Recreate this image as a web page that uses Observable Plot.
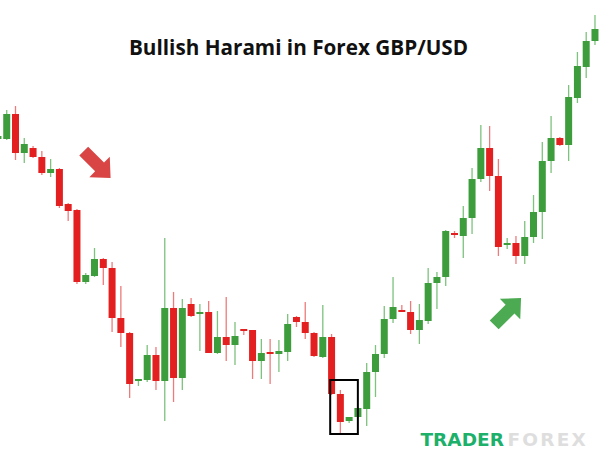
<!DOCTYPE html>
<html>
<head>
<meta charset="utf-8">
<script src="https://cdn.jsdelivr.net/npm/d3@7"></script>
<script src="https://cdn.jsdelivr.net/npm/@observablehq/plot@0.6"></script>
<style>
  html, body { margin: 0; padding: 0; background: #fff; }
  #chart { width: 600px; height: 459px; overflow: hidden; }
</style>
</head>
<body>
<div id="chart"></div>
<script>
// Chart title and watermark
const title = "Bullish Harami in Forex GBP/USD";
const brandA = "TRADER";
const brandB = "FOREX";

// Candle index of the first (partially visible) candle
const firstIndex = -2;

// OHLC values (arbitrary price units; higher = higher price)
const open  = [320,320,345,306,311,302,286,290,255,249,177,183,200,191,141,126,78,79,104,78,151,81,155,145,147,106,122,114,129,129,98,106,105,107,142,137,126,102,122,65,38,42,50,87,105,140,148,147,129,138,176,182,225,223,241,280,311,283,214,216,203,222,247,298,321,314,361,392,418,430];
const high  = [325,349,353,321,313,308,300,291,256,250,186,211,201,197,173,127,80,114,112,221,167,160,161,155,158,148,162,137,129,129,120,120,119,145,143,157,127,154,125,69,42,52,96,114,153,182,154,158,155,191,187,229,228,253,291,334,333,300,221,223,238,264,317,343,322,374,407,427,444,432];
const low   = [318,319,299,296,301,284,282,251,238,175,175,182,174,127,112,61,73,77,69,38,57,69,142,108,106,105,98,94,124,80,80,75,87,98,132,120,102,101,64,26,36,41,33,62,101,136,147,125,115,135,150,173,221,201,225,277,268,203,210,195,195,216,220,286,313,298,356,381,414,411];
const close = [323,345,306,315,302,286,290,253,248,177,184,200,191,141,126,75,80,104,78,151,81,151,143,147,106,122,114,123,128,98,106,105,108,135,137,126,103,122,65,37,42,51,87,105,140,152,147,129,139,176,182,228,224,241,280,311,283,212,216,203,222,247,298,321,314,362,393,418,430,413];

// Highlight box around the harami pattern (index / price units)
const haramiBox = [{x1: 35.9, x2: 39.05, y1: 25, y2: 79}];
// Trend arrows (index / price units, direction in degrees)
const arrows = [
  {x: 9.3, y: 295, angle: 45, color: "#d94545"},
  {x: 56.05, y: 148, angle: -45, color: "#4cab52"}
];

const green = "#3d9d3d", red = "#e41f1f";
const greenWick = "#7dc27d", redWick = "#ee7b7b";

const candles = open.map((o, k) => ({
  i: k + firstIndex,
  open: o, high: high[k], low: low[k], close: close[k],
  up: close[k] >= o
}));

const arrowSymbol = {
  draw(ctx, size) {
    const r = Math.sqrt(size / Math.PI);
    const w = 0.33 * r, h = 0.76 * r, hl = 0.82 * r;
    ctx.moveTo(-r, -w);
    ctx.lineTo(r - hl, -w);
    ctx.lineTo(r - hl, -h);
    ctx.lineTo(r, 0);
    ctx.lineTo(r - hl, h);
    ctx.lineTo(r - hl, w);
    ctx.lineTo(-r, w);
    ctx.closePath();
  }
};

const step = 8.78, x0 = 15;
const chart = Plot.plot({
  width: 600,
  height: 459,
  margin: 0,
  style: {background: "#fff"},
  x: {type: "linear", domain: [firstIndex, open.length - 1 + firstIndex],
      range: [x0 + firstIndex * step, x0 + (open.length - 1 + firstIndex) * step], axis: null},
  y: {domain: [0, 459], range: [459, 0], axis: null},
  marks: [
    Plot.ruleX(candles, {x: "i", y1: "low", y2: "high",
      stroke: d => d.up ? greenWick : redWick, strokeWidth: 1.3}),
    Plot.ruleX(candles, {x: "i",
      y1: d => Math.min(d.open, d.close),
      y2: d => Math.max(Math.max(d.open, d.close), Math.min(d.open, d.close) + 2),
      stroke: d => d.up ? green : red, strokeWidth: 7}),
    Plot.rect(haramiBox, {x1: "x1", x2: "x2", y1: "y1", y2: "y2",
      fill: "none", stroke: "#000", strokeWidth: 2}),
    Plot.dot(arrows, {x: "x", y: "y", r: 19, symbol: arrowSymbol,
      rotate: "angle", fill: "color", stroke: "none"}),
    Plot.text([title], {frameAnchor: "top", dx: -2, dy: 48, lineAnchor: "middle",
      fontSize: 20.7, fontWeight: "bold", fontFamily: "Open Sans", fill: "#111"}),
    Plot.text([brandA], {frameAnchor: "top-left", dx: 420, dy: 439.5, lineAnchor: "middle",
      textAnchor: "start", fontSize: 18.5, fontWeight: "bold", fontFamily: "DejaVu Sans", fill: "#1db06a"}),
    Plot.text([brandB], {frameAnchor: "top-left", dx: 507, dy: 439.5, lineAnchor: "middle",
      textAnchor: "start", fontSize: 18.5, fontWeight: "bold", fontFamily: "DejaVu Sans", fill: "#dedede",
      className: "brand-b"})
  ]
});
d3.select(chart).selectAll(".brand-b text").attr("letter-spacing", "2.2px");
document.getElementById("chart").appendChild(chart);
</script>
</body>
</html>
